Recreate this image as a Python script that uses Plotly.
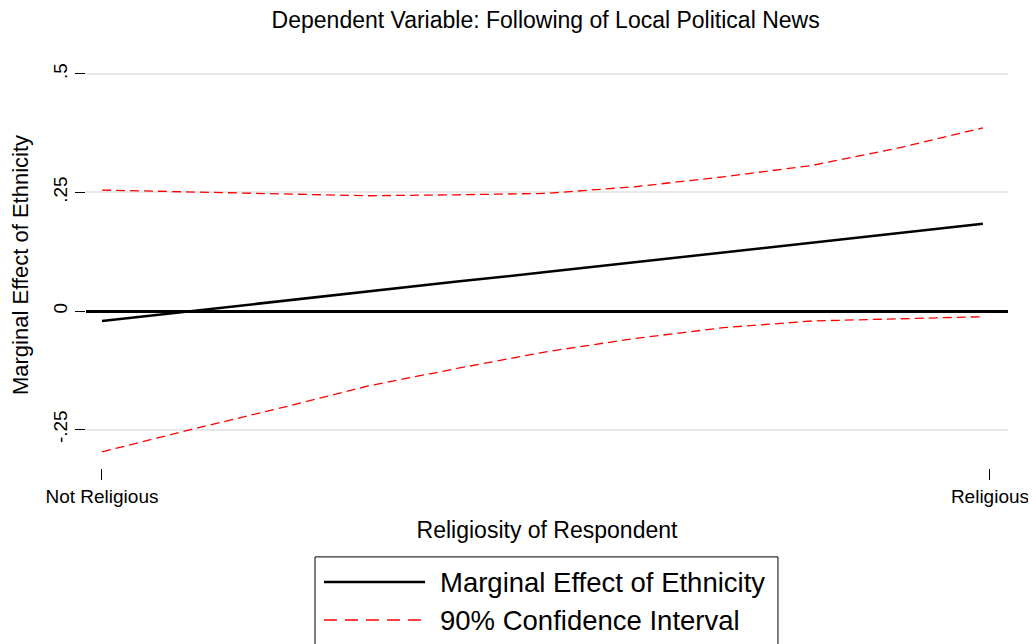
import plotly.graph_objects as go

# religiosity (0 = not religious, 1 = religious)
religiosity = [0.0, 0.1, 0.2, 0.3, 0.4, 0.5, 0.6, 0.7, 0.8, 0.9, 0.992]
marginal_effect = [-0.021, -0.000, 0.020, 0.041, 0.062, 0.082, 0.103, 0.124, 0.144, 0.165, 0.184]
ci_upper = [0.255, 0.251, 0.246, 0.243, 0.245, 0.248, 0.262, 0.283, 0.307, 0.345, 0.386]
ci_lower = [-0.297, -0.250, -0.205, -0.158, -0.121, -0.086, -0.058, -0.035, -0.021, -0.016, -0.012]

x_tickvals = [0, 1]
x_ticktext = ["Not Religious", "Religious"]
y_tickvals = [-0.25, 0, 0.25, 0.5]
y_ticktext = ["-.25", "0", ".25", ".5"]

legend_labels = ["Marginal Effect of Ethnicity", "90% Confidence Interval"]

FONT = "Liberation Sans, Arial, sans-serif"
ME_LINE = dict(color="black", width=2.5)
CI_LINE = dict(color="red", width=1.3, dash="9px,5px")
CI_LEGEND_LINE = dict(color="red", width=1.3, dash="13px,8px")

fig = go.Figure()

fig.add_trace(go.Scatter(x=religiosity, y=marginal_effect, mode="lines",
                         name=legend_labels[0], line=ME_LINE, showlegend=False))
fig.add_trace(go.Scatter(x=religiosity, y=ci_upper, mode="lines",
                         name=legend_labels[1], line=CI_LINE, showlegend=False))
fig.add_trace(go.Scatter(x=religiosity, y=ci_lower, mode="lines",
                         name=legend_labels[1], line=CI_LINE, showlegend=False))

# Stata-style legend box below the plot
fig.add_shape(type="rect", xref="paper", yref="paper",
              x0=0.2484, x1=0.7505, y0=-0.6, y1=-0.219,
              line=dict(color="black", width=1), fillcolor="white")
for i, (label, ln) in enumerate(zip(legend_labels, [ME_LINE, CI_LEGEND_LINE])):
    yy = -0.2808 - 0.0936 * i
    fig.add_shape(type="line", xref="paper", yref="paper",
                  x0=0.2581, x1=0.3677, y0=yy, y1=yy, line=ln)
    fig.add_annotation(text=label, xref="paper", yref="paper", x=0.3815, y=yy,
                       xanchor="left", yanchor="middle", showarrow=False,
                       font=dict(size=27.5))

fig.update_layout(
    width=1028, height=636,
    margin=dict(l=78, r=28, t=54, b=176, autoexpand=False),
    paper_bgcolor="white", plot_bgcolor="white",
    font=dict(family=FONT, color="black"),
    title=dict(text="Dependent Variable: Following of Local Political News",
               x=0.523, xanchor="center", y=0.981, yanchor="middle",
               font=dict(size=23)),
    showlegend=False,
)

fig.update_xaxes(range=[-0.018, 1.0203], tickvals=x_tickvals, ticktext=x_ticktext,
                 ticks="outside", ticklen=11, tickcolor="black", tickwidth=1,
                 showgrid=False, zeroline=False, showline=False,
                 tickfont=dict(size=19),
                 title=dict(text="Religiosity of Respondent", font=dict(size=23), standoff=16))

fig.update_yaxes(range=[-0.331, 0.525], tickvals=y_tickvals, ticktext=y_ticktext,
                 ticks="outside", ticklen=10, tickcolor="black", tickwidth=1,
                 tickangle=-90, tickfont=dict(size=19), ticklabelstandoff=0,
                 showgrid=True, gridcolor="#e8e8e8", gridwidth=2,
                 zeroline=True, zerolinecolor="black", zerolinewidth=2.5,
                 showline=False,
                 title=dict(text="Marginal Effect of Ethnicity", font=dict(size=22), standoff=16))

fig.write_html("out.html")
